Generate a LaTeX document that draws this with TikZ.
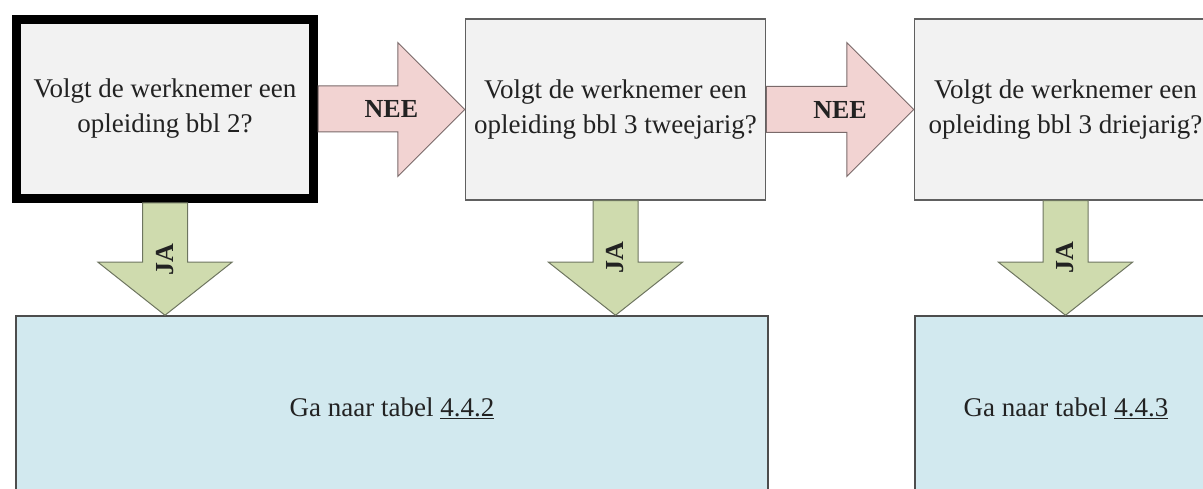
\documentclass[tikz,border=0pt]{standalone}
\usepackage{fontspec}
\setmainfont{Liberation Serif}
\usetikzlibrary{calc,positioning}

\definecolor{vraaggrijs}{HTML}{F2F2F2}
\definecolor{randgrijs}{HTML}{606060}
\definecolor{tabelblauw}{HTML}{D2E9EF}
\definecolor{neeroze}{HTML}{F2D3D2}
\definecolor{neerand}{HTML}{7A6A6A}
\definecolor{jagroen}{HTML}{CFDBAE}
\definecolor{jarand}{HTML}{6E7560}
\definecolor{tekst}{HTML}{222222}

\tikzset{
	vraag/.style={draw=randgrijs, fill=vraaggrijs, line width=1.5pt,
		minimum width=300pt, minimum height=181pt, align=center,
		text=tekst, font=\fontsize{27}{35}\selectfont},
	tabel/.style={draw=randgrijs!80!black, fill=tabelblauw, line width=1.5pt,
		minimum height=184pt, text=tekst, font=\fontsize{27}{35}\selectfont},
	neepijl/.style={draw=neerand, fill=neeroze, line width=1pt},
	japijl/.style={draw=jarand, fill=jagroen, line width=1pt},
	pijltekst/.style={text=tekst, font=\bfseries\fontsize{26}{30}\selectfont}
}

\begin{document}
\begin{tikzpicture}[x=1pt,y=-1pt]
	\useasboundingbox (0,0) rectangle (1203,489);
	\clip (0,0) rectangle (1203,489);

	% vragen
	\node[vraag, draw=black, line width=9pt, minimum width=297pt, minimum height=179pt]
		(q1) at (165,109) {Volgt de werknemer een\\opleiding bbl 2?};
	\node[vraag] (q2) at (615.5,109.5) {Volgt de werknemer een\\opleiding bbl 3 tweejarig?};
	\node[vraag, minimum width=302pt] (q3) at (1065.5,109.5) {Volgt de werknemer een\\opleiding bbl 3 driejarig?};

	% tabellen
	\node[tabel, minimum width=752pt] (t442) at (392,408) {Ga naar tabel \underline{4.4.2}};
	\node[tabel, minimum width=302pt] (t443) at (1066,408) {Ga naar tabel \underline{4.4.3}};

	% punten waar de ja-pijlen eindigen
	\coordinate (p1) at (q1.south |- t442.north);
	\coordinate (p2) at (q2.south |- t442.north);
	\coordinate (p3) at (q3.south |- t443.north);

	% nee-pijlen
	\draw[neepijl] ($(q1.east)+(0,-23)$) -| ($(q2.west)+(-67,-67)$) -- (q2.west)
		-- ($(q2.west)+(-67,67)$) |- ($(q1.east)+(0,23)$) -- cycle;
	\draw[neepijl] ($(q2.east)+(0,-23)$) -| ($(q3.west)+(-67,-67)$) -- (q3.west)
		-- ($(q3.west)+(-67,67)$) |- ($(q2.east)+(0,23)$) -- cycle;
	\node[pijltekst] (nee1) at ($(q1.east)!0.5!(q2.west)$) {NEE};
	\node[pijltekst] (nee2) at ($(q2.east)!0.5!(q3.west)$) {NEE};

	% ja-pijlen
	\draw[japijl] ($(q1.south)+(-22.5,0)$) |- ($(p1)+(-67,-53)$) -- (p1)
		-- ($(p1)+(67,-53)$) -| ($(q1.south)+(22.5,0)$) -- cycle;
	\draw[japijl] ($(q2.south)+(-22.5,0)$) |- ($(p2)+(-67,-53)$) -- (p2)
		-- ($(p2)+(67,-53)$) -| ($(q2.south)+(22.5,0)$) -- cycle;
	\draw[japijl] ($(q3.south)+(-22.5,0)$) |- ($(p3)+(-67,-53)$) -- (p3)
		-- ($(p3)+(67,-53)$) -| ($(q3.south)+(22.5,0)$) -- cycle;
	\node[pijltekst, rotate=90] (ja1) at ($(q1.south)!0.5!(p1)$) {JA};
	\node[pijltekst, rotate=90] (ja2) at ($(q2.south)!0.5!(p2)$) {JA};
	\node[pijltekst, rotate=90] (ja3) at ($(q3.south)!0.5!(p3)$) {JA};
\end{tikzpicture}
\end{document}
